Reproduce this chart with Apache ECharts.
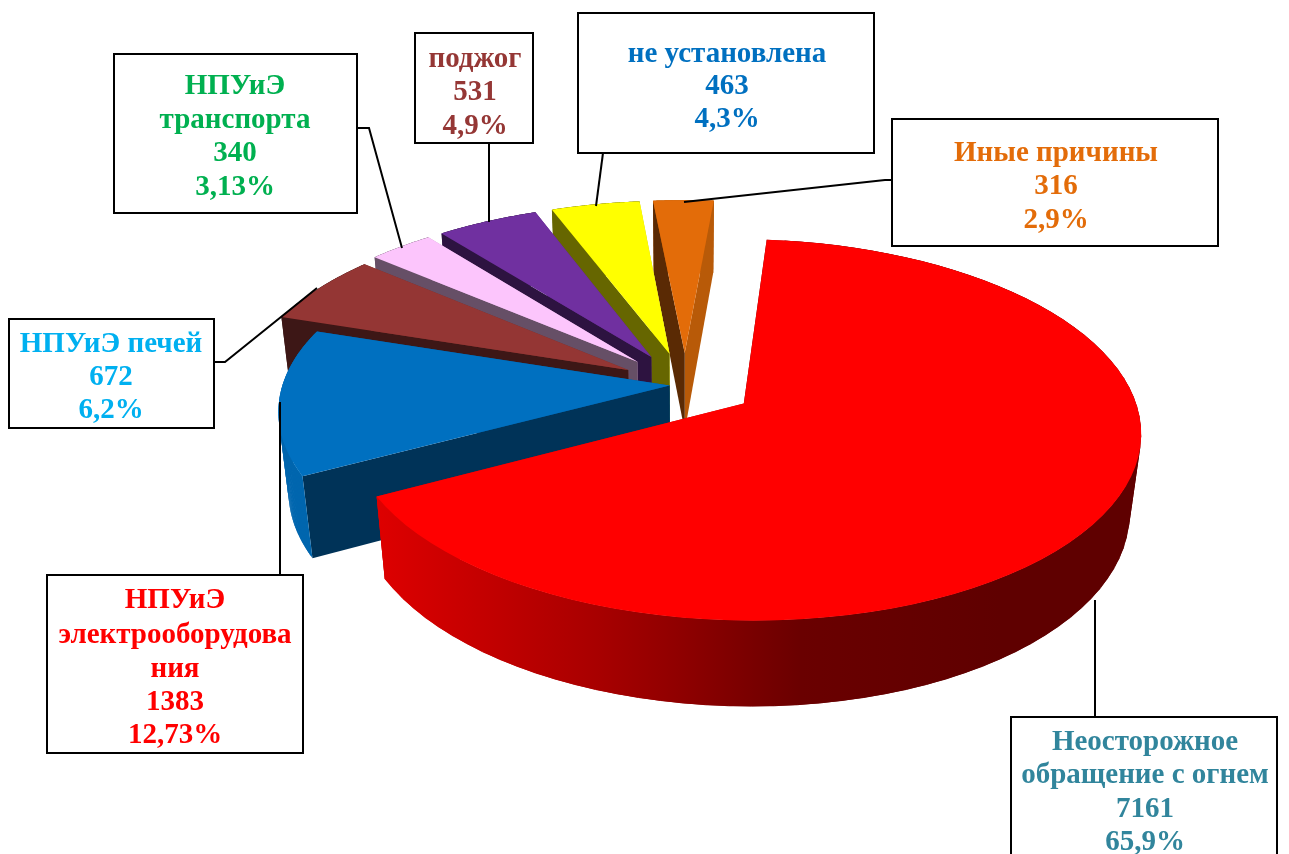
<!DOCTYPE html>
<html>
<head>
<meta charset="utf-8">
<title>Причины пожаров</title>
<style>
  html, body { margin: 0; padding: 0; background: #fff; overflow: hidden; }
  #root { width: 1289px; height: 854px; }
</style>
<script src="https://cdn.jsdelivr.net/npm/echarts@6/dist/echarts.min.js"></script>
</head>
<body>
<div id="root"></div>
<script>
// chart values, clockwise from the big red slice
const categories = ['Неосторожное обращение с огнем', 'НПУиЭ электрооборудования', 'НПУиЭ печей', 'НПУиЭ транспорта', 'поджог', 'не установлена', 'Иные причины'];
const values = [7161, 1383, 672, 340, 531, 463, 316];
const percents = ['65,9%', '12,73%', '6,2%', '3,13%', '4,9%', '4,3%', '2,9%'];

const topColors = ['#ff0000', '#0070c0', '#943634', '#fcc5fc', '#7030a0', '#ffff00', '#e36c09'];
const startFaceColors = ['#660000', '#003358', '#3d1716', '#664f66', '#2d1340', '#666600', '#5a2a04'];
const endFaceColors = ['#cc0000', '#005a9a', '#76302c', '#ca9eca', '#5a2680', '#cccc00', '#b85a08'];
const wallColors = [null, '#0066ae', '#3d1716', '#664f66', '#2d1340', '#666600', '#b85a08'];
const labelColors = ['#31859c', '#ff0000', '#00b0f0', '#00b050', '#953735', '#0070c0', '#e36c09'];
const explode = [0.18, 0.04, 0.17, 0.18, 0.18, 0.18, 0.18];

// fake 3D camera, fitted by eye to the picture
const firstAngle = 5;
const cam = { x0: 685, y0: 385, bx: 387, ay: 182, p: 0.137, depth: 81, depthW: 0.025 };

const total = values.reduce((a, b) => a + b, 0);
const rad = d => d * Math.PI / 180;

function project(X, Y, bottom) {
    let w = 1 + cam.p * Y + (bottom ? cam.depthW : 0);
    return [
        cam.x0 + cam.bx * X / w,
        cam.y0 + (-cam.ay * Y + (bottom ? cam.depth : 0)) / w
    ];
}

function sliceShapes(i) {
    let before = values.slice(0, i).reduce((a, b) => a + b, 0);
    let a0 = firstAngle + before / total * 360;
    let a1 = a0 + values[i] / total * 360;
    let mid = rad((a0 + a1) / 2);
    let ox = explode[i] * Math.sin(mid);
    let oy = explode[i] * Math.cos(mid);

    let arc = bottom => {
        let pts = [];
        for (let k = 0; k <= 80; k++) {
            let t = rad(a0 + (a1 - a0) * k / 80);
            pts.push(project(ox + Math.sin(t), oy + Math.cos(t), bottom));
        }
        return pts;
    };
    let topArc = arc(false);
    let botArc = arc(true);
    let apexTop = project(ox, oy, false);
    let apexBot = project(ox, oy, true);

    let wallFill = wallColors[i];
    if (!wallFill) {
        wallFill = new echarts.graphic.LinearGradient(380, 0, 1000, 0, [
            { offset: 0, color: '#dd0000' },
            { offset: 0.35, color: '#a80000' },
            { offset: 0.68, color: '#6a0000' },
            { offset: 1, color: '#5f0000' }
        ], true);
    }
    let poly = (points, fill) => ({
        type: 'polygon',
        shape: { points: points },
        style: { fill: fill, stroke: null }
    });
    // panels overlap by one arc step so no seams show, a single ring would cross itself at the sides
    let wall = [];
    for (let k = 0; k < 80; k++) {
        let n = Math.min(k + 2, 80);
        wall.push(poly([topArc[k], topArc[n], botArc[n], botArc[k]], wallFill));
    }
    let faces = [
        poly([apexTop, topArc[80], botArc[80], apexBot], endFaceColors[i]),
        poly([apexTop, topArc[0], botArc[0], apexBot], startFaceColors[i])
    ];
    // slices at the back show their cut faces in front of the outer wall
    let sides = Math.cos(mid) > 0 ? wall.concat(faces) : faces.concat(wall);
    return sides.concat([poly([apexTop].concat(topArc), topColors[i])]);
}

// painted from the back slice to the front one
const paintOrder = values.map((v, i) => i).reverse();

// boxes, leader lines and text lines of the callouts
const boxes = [
    { i: 0, rect: [1011, 717, 266, 160], cx: 1145, lines: ['Неосторожное', 'обращение с огнем', String(values[0]), percents[0]], ys: [743, 776, 810, 843], leader: [[1095, 600], [1095, 717]] },
    { i: 1, rect: [47, 575, 256, 178], cx: 175, lines: ['НПУиЭ', 'электрооборудова', 'ния', String(values[1]), percents[1]], ys: [601, 636, 670, 703, 736], leader: [[280, 402], [280, 575]] },
    { i: 2, rect: [9, 319, 205, 109], cx: 111, lines: ['НПУиЭ печей', String(values[2]), percents[2]], ys: [345, 378, 411], leader: [[214, 362], [225, 362], [317, 288]] },
    { i: 3, rect: [114, 54, 243, 159], cx: 235, lines: ['НПУиЭ', 'транспорта', String(values[3]), percents[3]], ys: [87, 121, 154, 188], leader: [[357, 128], [369, 128], [402, 248]] },
    { i: 4, rect: [415, 33, 118, 110], cx: 475, lines: ['поджог', String(values[4]), percents[4]], ys: [60, 93, 127], leader: [[489, 143], [489, 222]] },
    { i: 5, rect: [578, 13, 296, 140], cx: 727, lines: ['не установлена', String(values[5]), percents[5]], ys: [55, 87, 120], leader: [[603, 153], [596, 206]] },
    { i: 6, rect: [892, 119, 326, 127], cx: 1056, lines: ['Иные причины', String(values[6]), percents[6]], ys: [154, 187, 221], leader: [[892, 180], [885, 180], [684, 202]] }
];

let elements = [];
boxes.forEach(b => {
    elements.push({
        type: 'polyline', z: 10,
        shape: { points: b.leader },
        style: { fill: null, stroke: '#000', lineWidth: 2 }
    });
    elements.push({
        type: 'rect', z: 11,
        shape: { x: b.rect[0], y: b.rect[1], width: b.rect[2], height: b.rect[3] },
        style: { fill: '#fff', stroke: '#000', lineWidth: 2 }
    });
    b.lines.forEach((line, k) => {
        elements.push({
            type: 'text', z: 12, x: b.cx, y: b.ys[k],
            style: {
                text: line,
                fill: labelColors[b.i],
                font: 'bold 29px "Liberation Serif", "Times New Roman", serif',
                textAlign: 'center',
                textVerticalAlign: 'middle'
            }
        });
    });
});

let myChart = echarts.init(document.getElementById('root'), null, { renderer: 'canvas' });
myChart.setOption({
    animation: false,
    backgroundColor: '#fff',
    graphic: { elements: elements },
    series: [{
        type: 'custom',
        coordinateSystem: 'none',
        silent: true,
        data: paintOrder.map(i => ({ name: categories[i], value: [values[i], i] })),
        renderItem: (params, api) => ({
            type: 'group',
            children: sliceShapes(api.value(1))
        })
    }]
});
</script>
</body>
</html>
